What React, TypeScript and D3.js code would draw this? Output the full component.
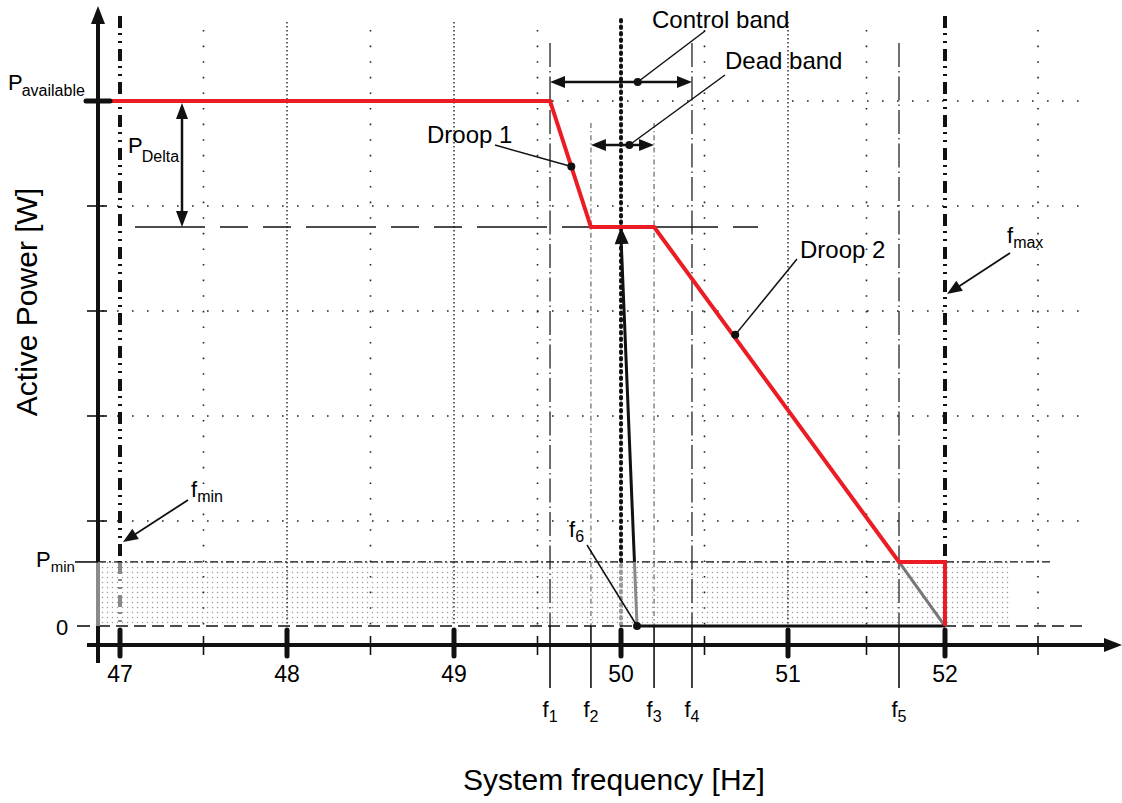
import * as d3 from 'd3';

// frequency ticks and grid (Hz)
const X_TICKS = [47, 48, 49, 50, 51, 52];
const X_HALF = [47.5, 48.5, 49.5, 50.5, 51.5, 52.5];
const X_DENSE_GRID = [48, 49, 51];
// power grid levels (arbitrary units, 5 = P available)
const P_GRID = [1, 2, 3, 4, 5];

const P_AVAILABLE = 5;
const P_REDUCED = 3.8;
const P_MIN = 0.61;
const F_MIN = 47;
const F_MAX = 52;
const F_NOMINAL = 50;

// characteristic frequencies f1..f5 and f6
const F_NAMES = ['1', '2', '3', '4', '5'];
const F_VALUES = [49.575, 49.82, 50.198, 50.425, 51.707];
const F6 = 50.096;

// red droop characteristic
const CURVE_F = [46.94, 49.575, 49.82, 50.198, 51.707, 52, 52];
const CURVE_P = [5, 5, 3.8, 3.8, 0.61, 0.61, 0];

const W = 1122;
const H = 803;
const FONT = "Arial, 'Liberation Sans', sans-serif";
const RED = '#ec1c24';
const GRAY = '#777';

const x = d3.scaleLinear().domain([47, 51, 52, 52.5]).range([120, 788, 945, 1038]);
const y = d3.scaleLinear().domain([0, 5]).range([626, 101]);

const AXIS_X = 98;
const AXIS_Y = 645;

function head(tx: number, ty: number, fx: number, fy: number, len = 15, half = 6) {
  const a = Math.atan2(ty - fy, tx - fx);
  const bx = tx - len * Math.cos(a);
  const by = ty - len * Math.sin(a);
  const px = -Math.sin(a) * half;
  const py = Math.cos(a) * half;
  return `${tx},${ty} ${bx + px},${by + py} ${bx - px},${by - py}`;
}

function Sub({ x: tx, y: ty, main, sub, size = 22, subSize = 15, anchor = 'start' }: any) {
  return (
    <text x={tx} y={ty} fontSize={size} fontFamily={FONT} textAnchor={anchor}>
      {main}
      <tspan fontSize={subSize} dy={5}>{sub}</tspan>
    </text>
  );
}

export default function App() {
  const curve = d3.range(CURVE_F.length).map((i) => [x(CURVE_F[i]), y(CURVE_P[i])] as [number, number]);
  const line = d3.line();

  const [f1, f2, f3, f4, f5] = F_VALUES;

  // annotation dots on the droops
  const droop1 = d3.interpolate([f1, P_AVAILABLE], [f2, P_REDUCED])(0.52);
  const droop2 = d3.interpolate([f3, P_REDUCED], [f5, P_MIN])(0.322);

  // black response arrow from f6 up to nominal frequency
  const arrowBottom: [number, number] = [x(F6), y(0)];
  const arrowTop: [number, number] = [x(F_NOMINAL), y(P_REDUCED)];
  const tMin = P_MIN / P_REDUCED;
  const arrowMid: [number, number] = [x(F6 + (F_NOMINAL - F6) * tMin), y(P_MIN)];

  const ctrlY = 82;
  const deadY = 145;
  const deltaX = 182;

  return (
    <svg width={W} height={H} style={{ position: 'absolute', left: 0, top: 0, background: '#fff' }}>
      <defs>
        <pattern id="stipple" width="5" height="5" patternUnits="userSpaceOnUse">
          <circle cx="2.5" cy="2.5" r="0.75" fill="#9a9a9a" />
        </pattern>
      </defs>

      {/* shaded band below P_min */}
      <rect x={AXIS_X} y={y(P_MIN)} width={1010 - AXIS_X} height={y(0) - y(P_MIN)} fill="url(#stipple)" />

      {/* horizontal dotted grid */}
      {P_GRID.map((p) => (
        <line key={`hg${p}`} x1={102} x2={1085} y1={y(p)} y2={y(p)} stroke="#222" strokeWidth={1.6} strokeDasharray="1.6 13.4" />
      ))}
      {/* vertical dotted grid */}
      {X_HALF.map((f) => (
        <line key={`vh${f}`} x1={x(f)} x2={x(f)} y1={30} y2={y(0)} stroke="#222" strokeWidth={1.6} strokeDasharray="1.6 14" />
      ))}
      {X_DENSE_GRID.map((f) => (
        <line key={`vd${f}`} x1={x(f)} x2={x(f)} y1={22} y2={y(0)} stroke="#222" strokeWidth={1.4} strokeDasharray="1.4 2.6" />
      ))}

      {/* characteristic frequency lines */}
      {F_VALUES.map((f, i) => {
        const grayLine = i === 1 || i === 2;
        return (
          <g key={`fl${i}`}>
            <line
              x1={x(f)} x2={x(f)} y1={grayLine ? 123 : 43} y2={y(0)}
              stroke={grayLine ? '#666' : '#111'} strokeWidth={1.2}
              strokeDasharray={grayLine ? '5 3 1.2 3' : '24 4 1.5 4'}
            />
            <line x1={x(f)} x2={x(f)} y1={y(0)} y2={688} stroke="#111" strokeWidth={1.6} />
            <Sub x={x(f)} y={717} main="f" sub={F_NAMES[i]} size={22} subSize={16} anchor="middle" />
          </g>
        );
      })}

      {/* nominal 50 Hz line */}
      <line x1={x(F_NOMINAL)} x2={x(F_NOMINAL)} y1={20} y2={y(P_MIN)} stroke="#111" strokeWidth={4} strokeLinecap="round" strokeDasharray="1.5 5" />
      <line x1={x(F_NOMINAL)} x2={x(F_NOMINAL)} y1={y(P_MIN) + 3} y2={y(0)} stroke="#999" strokeWidth={4} strokeLinecap="round" strokeDasharray="1.5 5" />

      {/* f_min and f_max lines */}
      {[F_MIN, F_MAX].map((f) => (
        <g key={`lim${f}`}>
          <line x1={x(f)} x2={x(f)} y1={16} y2={y(P_MIN)} stroke="#111" strokeWidth={4} strokeDasharray="12 5 2 6 2 6" />
          {f === F_MIN && (
            <line x1={x(f)} x2={x(f)} y1={y(P_MIN)} y2={y(0)} stroke="#888" strokeWidth={4} strokeDasharray="12 5 2 6 2 6" />
          )}
        </g>
      ))}

      {/* P_min and zero lines */}
      <line x1={AXIS_X} x2={1050} y1={y(P_MIN)} y2={y(P_MIN)} stroke="#111" strokeWidth={1.3} strokeDasharray="8 3 2 3" />
      <line x1={AXIS_X} x2={1083} y1={y(0)} y2={y(0)} stroke="#111" strokeWidth={1.6} strokeDasharray="12 6" />

      {/* reduced power dashed level */}
      <line x1={135} x2={758} y1={y(P_REDUCED)} y2={y(P_REDUCED)} stroke="#111" strokeWidth={1.6} strokeDasharray="70 15 28 15 28 15" />

      {/* gray droop continuation and black base */}
      <line x1={x(f5)} y1={y(P_MIN)} x2={x(F_MAX)} y2={y(0)} stroke={GRAY} strokeWidth={3} />
      <line x1={x(F6)} x2={x(F_MAX)} y1={y(0)} y2={y(0)} stroke="#111" strokeWidth={3} />

      {/* response arrow */}
      <line x1={arrowBottom[0]} y1={arrowBottom[1]} x2={arrowMid[0]} y2={arrowMid[1]} stroke="#888" strokeWidth={3} />
      <line x1={arrowMid[0]} y1={arrowMid[1]} x2={arrowTop[0]} y2={arrowTop[1] + 10} stroke="#111" strokeWidth={3} />
      <polygon points={head(arrowTop[0], arrowTop[1], arrowBottom[0], arrowBottom[1], 17, 7)} fill="#111" />

      {/* red characteristic */}
      <path d={line(curve) ?? ''} fill="none" stroke={RED} strokeWidth={4} strokeLinejoin="miter" />

      {/* axes */}
      <line x1={87} x2={1108} y1={AXIS_Y} y2={AXIS_Y} stroke="#111" strokeWidth={4} />
      <polygon points={head(1122, AXIS_Y, 1000, AXIS_Y, 18, 7)} fill="#111" />
      <line x1={AXIS_X} x2={AXIS_X} y1={663} y2={22} stroke="#111" strokeWidth={4} />
      <line x1={AXIS_X} x2={AXIS_X} y1={y(P_MIN)} y2={y(0)} stroke="#8a8a8a" strokeWidth={4} />
      <polygon points={head(AXIS_X, 6, AXIS_X, 200, 18, 7)} fill="#111" />

      {/* y ticks */}
      {P_GRID.filter((p) => p < P_AVAILABLE).map((p) => (
        <line key={`yt${p}`} x1={87} x2={107} y1={y(p)} y2={y(p)} stroke="#111" strokeWidth={1.6} />
      ))}
      <line x1={86} x2={110} y1={y(P_AVAILABLE)} y2={y(P_AVAILABLE)} stroke="#111" strokeWidth={5} strokeLinecap="round" />
      <line x1={75} x2={98} y1={y(P_MIN)} y2={y(P_MIN)} stroke="#111" strokeWidth={1.6} />
      <line x1={77} x2={90} y1={y(0)} y2={y(0)} stroke="#111" strokeWidth={1.6} />

      {/* x ticks */}
      {X_TICKS.map((f) => (
        <g key={`xt${f}`}>
          <line x1={x(f)} x2={x(f)} y1={630} y2={656} stroke="#111" strokeWidth={5} strokeLinecap="round" />
          <text x={x(f)} y={682} fontSize={23} fontFamily={FONT} textAnchor="middle">{f}</text>
        </g>
      ))}
      {X_HALF.map((f) => (
        <line key={`xm${f}`} x1={x(f)} x2={x(f)} y1={636} y2={655} stroke="#111" strokeWidth={1.6} />
      ))}

      {/* y labels */}
      <text x={8} y={90} fontSize={22} fontFamily={FONT}>
        P<tspan fontSize={16} dy={6} dx={-1}>available</tspan>
      </text>
      <text x={36} y={567} fontSize={22} fontFamily={FONT}>
        P<tspan fontSize={15} dy={5}>min</tspan>
      </text>
      <text x={56} y={635} fontSize={22} fontFamily={FONT}>0</text>

      {/* axis titles */}
      <text transform="translate(37,302) rotate(-90)" fontSize={30} fontFamily={FONT} textAnchor="middle">Active Power [W]</text>
      <text x={614} y={790} fontSize={30} fontFamily={FONT} textAnchor="middle">System frequency [Hz]</text>

      {/* P_Delta */}
      <line x1={deltaX} x2={deltaX} y1={y(P_AVAILABLE) + 14} y2={y(P_REDUCED) - 14} stroke="#111" strokeWidth={2.5} />
      <polygon points={head(deltaX, y(P_AVAILABLE) + 2, deltaX, 300, 16, 6)} fill="#111" />
      <polygon points={head(deltaX, y(P_REDUCED), deltaX, 0, 16, 6)} fill="#111" />
      <text x={128} y={153} fontSize={22} fontFamily={FONT}>
        P<tspan fontSize={16} dy={9} dx={-1}>Delta</tspan>
      </text>

      {/* control band */}
      <line x1={x(f1) + 12} x2={x(f4) - 12} y1={ctrlY} y2={ctrlY} stroke="#111" strokeWidth={2.5} />
      <polygon points={head(x(f1), ctrlY, 900, ctrlY, 15, 6)} fill="#111" />
      <polygon points={head(x(f4), ctrlY, 0, ctrlY, 15, 6)} fill="#111" />
      <circle cx={x(50.1)} cy={ctrlY} r={4} fill="#111" />
      <line x1={x(50.1)} y1={ctrlY} x2={705} y2={31} stroke="#111" strokeWidth={1.5} />
      <text x={652} y={28} fontSize={24} fontFamily={FONT}>Control band</text>

      {/* dead band */}
      <line x1={x(f2) + 12} x2={x(f3) - 12} y1={deadY} y2={deadY} stroke="#111" strokeWidth={2.5} />
      <polygon points={head(x(f2), deadY, 900, deadY, 15, 6)} fill="#111" />
      <polygon points={head(x(f3), deadY, 0, deadY, 15, 6)} fill="#111" />
      <circle cx={x(50.05)} cy={deadY} r={4} fill="#111" />
      <line x1={x(50.05)} y1={deadY} x2={725} y2={75} stroke="#111" strokeWidth={1.5} />
      <text x={725} y={69} fontSize={24} fontFamily={FONT}>Dead band</text>

      {/* droop labels */}
      <line x1={495} y1={145} x2={x(droop1[0])} y2={y(droop1[1])} stroke="#111" strokeWidth={1.5} />
      <circle cx={x(droop1[0])} cy={y(droop1[1])} r={4} fill="#111" />
      <text x={427} y={143} fontSize={24} fontFamily={FONT}>Droop 1</text>

      <line x1={797} y1={259} x2={x(droop2[0])} y2={y(droop2[1])} stroke="#111" strokeWidth={1.5} />
      <circle cx={x(droop2[0])} cy={y(droop2[1])} r={4} fill="#111" />
      <text x={800} y={258} fontSize={24} fontFamily={FONT}>Droop 2</text>

      {/* f6 */}
      <line x1={587} y1={545} x2={x(F6)} y2={y(0)} stroke="#111" strokeWidth={1.5} />
      <circle cx={x(F6)} cy={y(0)} r={4} fill="#111" />
      <Sub x={569} y={537} main="f" sub="6" size={22} subSize={16} />

      {/* f_min / f_max */}
      <line x1={188} y1={500} x2={134} y2={535} stroke="#111" strokeWidth={1.8} />
      <polygon points={head(123, 542, 188, 500, 15, 6)} fill="#111" />
      <Sub x={191} y={497} main="f" sub="min" size={22} subSize={16} />

      <line x1={1010} y1={253} x2={958} y2={287} stroke="#111" strokeWidth={1.8} />
      <polygon points={head(947, 294, 1010, 253, 15, 6)} fill="#111" />
      <Sub x={1007} y={243} main="f" sub="max" size={22} subSize={16} />
    </svg>
  );
}
